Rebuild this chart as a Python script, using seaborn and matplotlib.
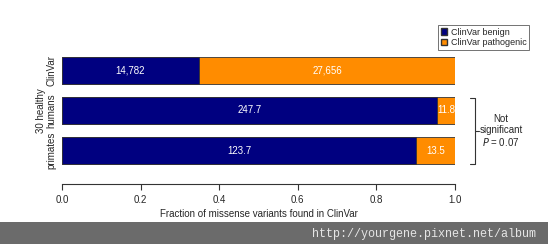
import matplotlib
matplotlib.use("Agg")
import matplotlib.pyplot as plt
import seaborn as sns
import pandas as pd
from matplotlib.patches import Rectangle, Patch

sns.set_style("white")
plt.rcParams['font.family'] = ['Liberation Sans', 'DejaVu Sans']

categories = ["ClinVar", "30 healthy\nhumans", "primates"]
benign_vals = [14782, 247.7, 123.7]
patho_vals = [27656, 11.8, 13.5]
benign_labels = ["14,782", "247.7", "123.7"]
patho_labels = ["27,656", "11.8", "13.5"]
xticks = [0.0, 0.2, 0.4, 0.6, 0.8, 1.0]

frac_b = [b / (b + p) for b, p in zip(benign_vals, patho_vals)]
df = pd.DataFrame({"cat": categories, "benign": frac_b, "total": [1.0] * 3})

W, H = 548, 244
fig = plt.figure(figsize=(W / 100, H / 100), dpi=100)
ax = fig.add_axes([62 / W, 1 - 184 / H, (455 - 62) / W, (184 - 50) / H])

navy = "#000080"
orange = "#FF8C00"
sns.barplot(data=df, y="cat", x="total", order=categories, color=orange,
            orient="h", width=0.675, ax=ax, edgecolor="#333333", linewidth=0.6,
            saturation=1)
sns.barplot(data=df, y="cat", x="benign", order=categories, color=navy,
            orient="h", width=0.675, ax=ax, edgecolor="#333333", linewidth=0.6,
            saturation=1)

ax.set_xlim(0, 1)
ax.set_ylim(2 + 33.5 / 40, -20.5 / 40)
ax.set_xticks(xticks)
ax.set_xticklabels([f"{t:.1f}" for t in xticks], fontsize=7)
ax.set_yticks([])
ax.set_ylabel("")
ax.set_xlabel("Fraction of missense variants found in ClinVar", fontsize=7, labelpad=3)
for s in ["top", "right", "left"]:
    ax.spines[s].set_visible(False)
ax.spines["bottom"].set_color("#333333")
ax.spines["bottom"].set_linewidth(0.8)
ax.tick_params(axis="x", bottom=True, direction="out", length=4, width=0.8,
               color="#333333", pad=4)

for i, (fb, bl, pl) in enumerate(zip(frac_b, benign_labels, patho_labels)):
    ax.text(fb / 2, i, bl, color="white", ha="center", va="center", fontsize=7)
    ax.text((fb + 1) / 2, i, pl, color="white", ha="center", va="center", fontsize=7)
    ax.text(-0.014, i, categories[i], rotation=90, ha="right", va="center",
            fontsize=7, multialignment="center", transform=ax.transData,
            linespacing=1.0)

# legend
handles = [Patch(facecolor=navy, edgecolor="#333333", label="ClinVar benign"),
           Patch(facecolor=orange, edgecolor="#333333", label="ClinVar pathogenic")]
leg = fig.legend(handles=handles, loc="upper right",
                 bbox_to_anchor=(529 / W, 1 - 25 / H),
                 fontsize=6.5, frameon=True, fancybox=False, handlelength=0.7,
                 handleheight=0.7, handletextpad=0.4, borderpad=0.3, labelspacing=0.15,
                 borderaxespad=0.0)
leg.get_frame().set_edgecolor("#333333")
leg.get_frame().set_linewidth(0.6)

# bracket
def fy(py):
    return 1 - py / H
def fx(px):
    return px / W
bx0, bx1 = fx(470), fx(475)
y0, y1 = fy(98), fy(164)
ym = (y0 + y1) / 2
fig.add_artist(plt.Line2D([bx0, bx1, bx1, bx0], [y0, y0, y1, y1], color="#333333", lw=0.8,
                          transform=fig.transFigure))
fig.add_artist(plt.Line2D([bx1, fx(479)], [ym, ym], color="#333333", lw=0.8,
                          transform=fig.transFigure))
fig.text(fx(501), ym, "Not\nsignificant\n$P$ = 0.07", ha="center", va="center",
         fontsize=7, linespacing=1.15)

# bottom watermark band
fig.add_artist(Rectangle((0, 0), 1, 22 / H, transform=fig.transFigure,
                         facecolor="#6b6b6b", edgecolor="none"))
fig.text(fx(536), fy(233.5), "http://yourgene.pixnet.net/album", ha="right", va="center",
         fontsize=8.5, color="#e6e6e6", family="Liberation Mono")

fig.savefig("out.png", dpi=100)
